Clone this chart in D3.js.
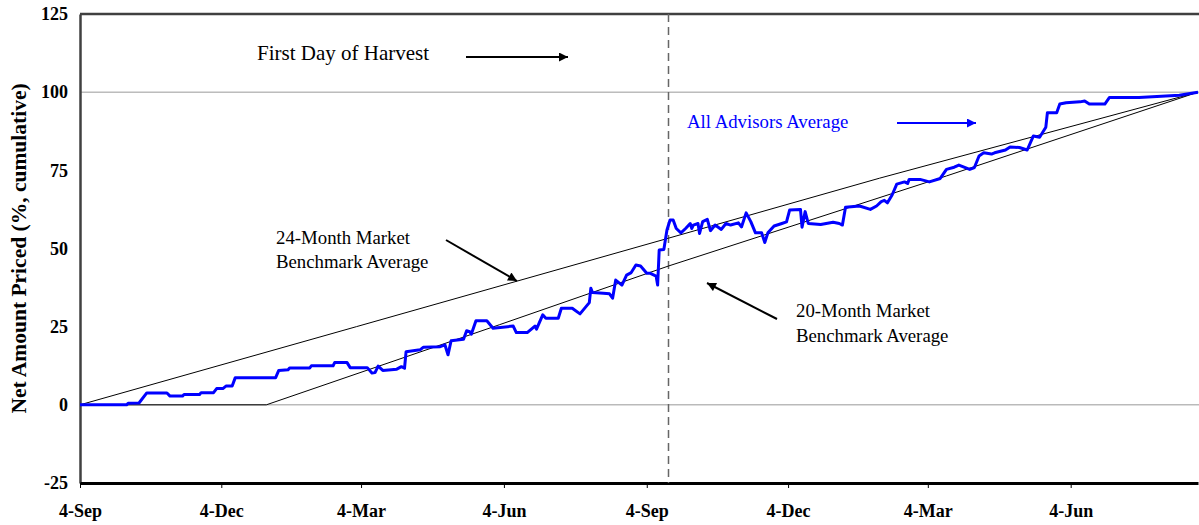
<!DOCTYPE html>
<html>
<head>
<meta charset="utf-8">
<script src="https://cdn.jsdelivr.net/npm/d3@7"></script>
<style>
  body { margin: 0; background: #fff; }
  text { font-family: "Liberation Serif", "Times New Roman", serif; }
</style>
</head>
<body>
<script>
// x axis tick dates and y axis ticks
const tickDates = ['2000-09-04','2000-12-04','2001-03-04','2001-06-04','2001-09-04','2001-12-04','2002-03-04','2002-06-04'];
const yTicks = [-25, 0, 25, 50, 75, 100, 125];
const gridValues = [0, 100];
const harvestDate = '2001-09-18';

// benchmark lines
const bench24 = [['2000-09-04',0],['2001-03-01',25],['2001-09-18',53.3],['2002-02-01',72.5],['2002-08-25',100]];
const bench20 = [['2000-09-04',0],['2001-01-02',0],['2001-06-01',25.6],['2001-09-18',44.4],['2002-03-16',73.2],['2002-08-25',100]];

// all advisors average (cumulative % priced)
const advisorsAvg = [
  ['2000-09-04',0],['2000-10-04',0],['2000-10-05',0.5],['2000-10-12',0.6],['2000-10-17',3.8],
  ['2000-10-30',3.8],['2000-11-01',2.8],['2000-11-09',2.8],['2000-11-10',3.3],['2000-11-20',3.3],
  ['2000-11-21',3.9],['2000-11-29',3.9],['2000-12-01',5.2],['2000-12-05',5.2],['2000-12-07',6.0],
  ['2000-12-11',6.0],['2000-12-13',8.7],['2001-01-08',8.7],['2001-01-10',11.0],['2001-01-16',11.2],
  ['2001-01-17',11.8],['2001-01-30',11.8],['2001-01-31',12.5],['2001-02-14',12.5],['2001-02-15',13.5],
  ['2001-02-23',13.5],['2001-02-25',11.9],['2001-03-08',11.9],['2001-03-11',10.2],['2001-03-13',10.3],
  ['2001-03-15',12.4],['2001-03-18',11.0],['2001-03-27',11.4],['2001-03-30',12.2],['2001-04-01',11.7],
  ['2001-04-02',17.0],['2001-04-11',17.6],['2001-04-13',18.4],['2001-04-24',18.6],['2001-04-27',19.2],
  ['2001-04-29',16.0],['2001-05-01',20.5],['2001-05-09',21.0],['2001-05-11',23.7],['2001-05-13',23.4],
  ['2001-05-14',22.6],['2001-05-17',26.9],['2001-05-24',26.9],['2001-05-28',24.5],['2001-06-10',25.2],
  ['2001-06-12',23.1],['2001-06-19',23.1],['2001-06-24',25.2],['2001-06-25',24.2],['2001-06-29',28.8],
  ['2001-07-01',27.7],['2001-07-09',27.7],['2001-07-11',30.9],['2001-07-18',30.9],['2001-07-23',29.1],
  ['2001-07-29',32.7],['2001-07-30',37.3],['2001-07-31',35.9],['2001-08-07',35.7],['2001-08-11',35.5],
  ['2001-08-13',34.1],['2001-08-15',39.9],['2001-08-19',38.3],['2001-08-22',41.5],['2001-08-25',42.3],
  ['2001-08-28',44.7],['2001-08-31',44.4],['2001-09-04',42.1],['2001-09-06',42.1],['2001-09-10',41.2],
  ['2001-09-11',38.3],['2001-09-12',49.5],['2001-09-15',49.7],['2001-09-17',55.9],['2001-09-19',59.1],
  ['2001-09-21',59.1],['2001-09-23',56.4],['2001-09-26',55.0],['2001-09-29',56.4],['2001-10-02',58.0],
  ['2001-10-03',56.4],['2001-10-04',57.5],['2001-10-07',58.0],['2001-10-08',54.8],['2001-10-10',58.6],
  ['2001-10-13',59.3],['2001-10-15',55.7],['2001-10-18',57.5],['2001-10-22',56.1],['2001-10-25',58.0],
  ['2001-10-28',57.5],['2001-11-02',58.2],['2001-11-04',56.9],['2001-11-07',61.4],['2001-11-10',58.6],
  ['2001-11-13',55.0],['2001-11-17',55.0],['2001-11-19',51.9],['2001-11-21',55.0],['2001-11-25',57.2],
  ['2001-11-30',58.0],['2001-12-03',58.5],['2001-12-05',62.3],['2001-12-12',62.5],['2001-12-13',56.8],
  ['2001-12-15',61.8],['2001-12-17',58.0],['2001-12-25',57.7],['2002-01-02',58.4],['2002-01-06',58.0],
  ['2002-01-08',57.5],['2002-01-10',63.2],['2002-01-19',63.6],['2002-01-26',62.5],['2002-01-30',63.6],
  ['2002-02-02',65.0],['2002-02-04',65.4],['2002-02-06',64.6],['2002-02-09',67.1],['2002-02-12',70.6],
  ['2002-02-17',71.3],['2002-02-19',70.8],['2002-02-20',72.1],['2002-02-27',72.1],['2002-03-05',71.3],
  ['2002-03-12',72.4],['2002-03-16',75.3],['2002-03-21',76.0],['2002-03-24',76.7],['2002-03-31',75.3],
  ['2002-04-03',75.9],['2002-04-06',79.6],['2002-04-09',80.6],['2002-04-14',80.2],['2002-04-16',80.6],
  ['2002-04-23',81.5],['2002-04-26',82.5],['2002-05-02',82.3],['2002-05-07',81.5],['2002-05-11',86.0],
  ['2002-05-15',85.6],['2002-05-19',88.8],['2002-05-20',93.4],['2002-05-26',93.4],['2002-05-28',96.2],
  ['2002-06-01',96.6],['2002-06-10',96.9],['2002-06-13',97.2],['2002-06-16',96.2],['2002-06-26',96.2],
  ['2002-06-29',98.3],['2002-07-18',98.3],['2002-08-13',99.0],['2002-08-25',100]
];

const W = 1199, H = 525;
const margin = {top: 14, right: 1, bottom: 42, left: 80};
const parse = d3.timeParse('%Y-%m-%d');

const svg = d3.select('body').append('svg').attr('width', W).attr('height', H);

const x = d3.scaleTime()
  .domain([parse('2000-09-04'), parse('2002-08-25')])
  .range([margin.left, W - margin.right]);
const y = d3.scaleLinear().domain([-25, 125]).range([H - margin.bottom, margin.top]);

// gridlines at 0 and 100
svg.append('g').selectAll('line').data(gridValues).enter().append('line')
  .attr('x1', margin.left).attr('x2', W)
  .attr('y1', d => y(d)).attr('y2', d => y(d))
  .attr('stroke', '#999').attr('stroke-width', 1);

// top border
svg.append('line').attr('x1', margin.left).attr('x2', W)
  .attr('y1', y(125)).attr('y2', y(125))
  .attr('stroke', '#404040').attr('stroke-width', 2.5);

// y axis
const yAxisG = svg.append('g').attr('transform', `translate(${margin.left},0)`)
  .call(d3.axisLeft(y).tickValues(yTicks).tickFormat(d => String(d)).tickSize(0).tickPadding(12));
yAxisG.select('.domain').attr('stroke', '#404040').attr('stroke-width', 2.5);
yAxisG.selectAll('.tick text').attr('font-size', 18).attr('font-weight', 'bold')
  .attr('fill', '#000').style('font-family', '"Liberation Serif", serif');

// x axis
const xAxisG = svg.append('g').attr('transform', `translate(0,${y(-25)})`)
  .call(d3.axisBottom(x).tickValues(tickDates.map(parse))
    .tickFormat(d3.timeFormat('%-d-%b')).tickSize(5).tickSizeOuter(0).tickPadding(16));
xAxisG.select('.domain').attr('stroke', '#000').attr('stroke-width', 3);
xAxisG.selectAll('.tick line').attr('stroke', '#000');
xAxisG.selectAll('.tick text').attr('font-size', 18).attr('font-weight', 'bold')
  .attr('fill', '#000').style('font-family', '"Liberation Serif", serif');

// y title
svg.append('text')
  .attr('transform', `translate(26,${(y(125) + y(-25)) / 2}) rotate(-90)`)
  .attr('text-anchor', 'middle')
  .attr('font-size', 21.5).attr('font-weight', 'bold')
  .text('Net Amount Priced (%, cumulative)');

// harvest line
svg.append('line')
  .attr('x1', x(parse(harvestDate))).attr('x2', x(parse(harvestDate)))
  .attr('y1', y(125)).attr('y2', y(-25))
  .attr('stroke', '#666').attr('stroke-width', 1.5).attr('stroke-dasharray', '8,5');

const line = d3.line().x(d => x(parse(d[0]))).y(d => y(d[1]));

svg.append('path').datum(bench24).attr('d', line)
  .attr('fill', 'none').attr('stroke', '#000').attr('stroke-width', 1);
svg.append('path').datum(bench20).attr('d', line)
  .attr('fill', 'none').attr('stroke', '#000').attr('stroke-width', 1);
svg.append('path').datum(advisorsAvg).attr('d', line)
  .attr('fill', 'none').attr('stroke', '#0000ff').attr('stroke-width', 3)
  .attr('stroke-linejoin', 'round');

// arrows
const defs = svg.append('defs');
[['headBlack', '#000'], ['headBlue', '#0000ff']].forEach(([id, c]) => {
  defs.append('marker').attr('id', id)
    .attr('viewBox', '0 0 10 10').attr('refX', 10).attr('refY', 5)
    .attr('markerWidth', 12).attr('markerHeight', 9).attr('markerUnits', 'userSpaceOnUse')
    .attr('orient', 'auto')
    .append('path').attr('d', 'M0,0L10,5L0,10Z').attr('fill', c);
});

function arrow(x1, y1, x2, y2, color, head) {
  svg.append('line').attr('x1', x1).attr('y1', y1).attr('x2', x2).attr('y2', y2)
    .attr('stroke', color).attr('stroke-width', 2).attr('marker-end', `url(#${head})`);
}

// annotations
svg.append('text').attr('x', 257).attr('y', 60).attr('font-size', 21).text('First Day of Harvest');
arrow(466, 57, 568, 57, '#000', 'headBlack');

svg.append('text').attr('x', 687).attr('y', 128).attr('font-size', 18.8).attr('fill', '#0000ff')
  .text('All Advisors Average');
arrow(897, 123, 976, 123, '#0000ff', 'headBlue');

svg.append('text').attr('font-size', 18.8)
  .selectAll('tspan').data(['24-Month Market', 'Benchmark Average']).enter().append('tspan')
  .attr('x', 276).attr('y', (d, i) => 244 + i * 24).text(d => d);
arrow(446, 240, 517, 281, '#000', 'headBlack');

svg.append('text').attr('font-size', 18.8)
  .selectAll('tspan').data(['20-Month Market', 'Benchmark Average']).enter().append('tspan')
  .attr('x', 796).attr('y', (d, i) => 317 + i * 25).text(d => d);
arrow(777, 319, 707, 283, '#000', 'headBlack');
</script>
</body>
</html>
